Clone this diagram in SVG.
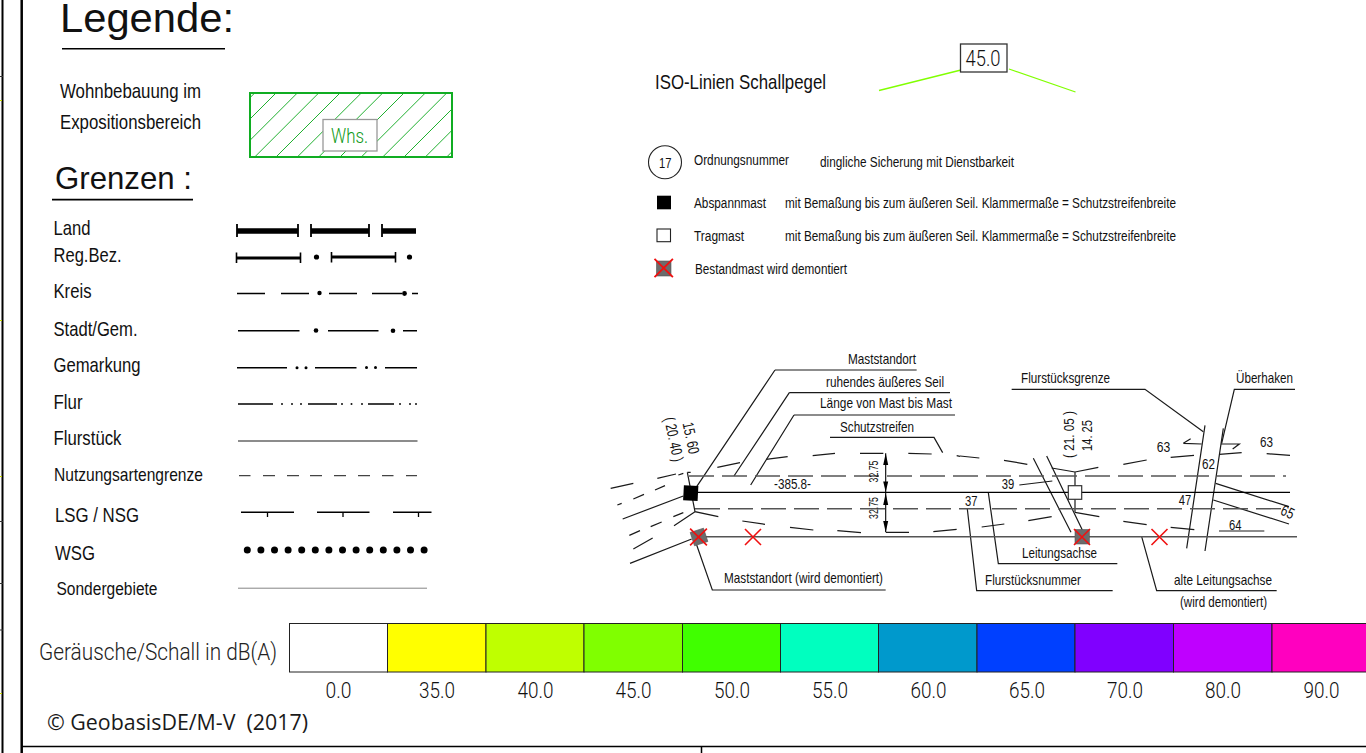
<svg xmlns="http://www.w3.org/2000/svg" width="1366" height="753" viewBox="0 0 1366 753">
<style>
text{font-family:"Liberation Sans",Arial,sans-serif;fill:#111}
.lab{font-size:21px}
.sm{font-size:14px}
.d{font-size:14.5px}
.n{font-size:15.5px}
.iso{font-family:Roboto,"Liberation Sans",sans-serif;font-weight:300;font-size:22px;fill:#111}
.ln{fill:none;stroke:#000;stroke-linecap:butt}
.dash{fill:none;stroke:#555;stroke-width:1.4;stroke-dasharray:25 8}
.x{fill:none;stroke:#f01010;stroke-width:1.6}
.old{fill:#6c6c6c;stroke:#555;stroke-width:.6}
.bar{stroke:#222;stroke-width:1}
</style>
<defs>
<clipPath id="hatchClip"><rect x="250" y="93" width="202" height="64"/></clipPath>
<path id="redX" class="x" d="M-8-8L8 8M8-8L-8 8"/>
</defs>
<rect width="1366" height="753" fill="#fff"/>

<g id="frame">
<path class="ln" stroke-width="2" d="M2.500 0V753"/>
<path class="ln" stroke-width="2.500" d="M21.700 0V753"/>
<path class="ln" stroke-width="1.500" d="M22 746.500H1366M701.500 746.500V753"/>
<path fill="none" stroke="#333" stroke-width="1" d="M0 76.500H3M0 521.500H3M0 583.500H3M0 630H3"/>
<path fill="none" stroke="#c8d800" stroke-width="1" d="M0 100.500H2M0 320.500H2M0 476.500H2M0 693.500H2"/>
</g>

<g id="title">
<text x="60" y="32" font-size="41" textLength="174" lengthAdjust="spacingAndGlyphs">Legende:</text>
<path class="ln" stroke-width="1.600" d="M62 48.700H225"/>
</g>

<g id="wohnbebauung">
<text class="lab" x="60" y="98" textLength="141" lengthAdjust="spacingAndGlyphs">Wohnbebauung im</text>
<text class="lab" x="60" y="128.500" textLength="141" lengthAdjust="spacingAndGlyphs">Expositionsbereich</text>
<g clip-path="url(#hatchClip)"><path fill="none" stroke="#20b030" stroke-width="1" d="M254.700 93l-64 64M276 93l-64 64M297.300 93l-64 64M318.700 93l-64 64M340 93l-64 64M361.300 93l-64 64M382.700 93l-64 64M404 93l-64 64M425.300 93l-64 64M446.700 93l-64 64M468 93l-64 64M489.300 93l-64 64M510.700 93l-64 64"/></g>
<rect x="250" y="93" width="202" height="64" fill="none" stroke="#10ad22" stroke-width="2"/>
<rect x="323" y="119.500" width="54" height="31.500" fill="#fff" stroke="#999" stroke-width="1.300"/>
<text x="331" y="143" font-size="20" textLength="37" lengthAdjust="spacingAndGlyphs" style="fill:#109a20;font-family:Roboto,'Liberation Sans',sans-serif;font-weight:300">Whs.</text>
</g>

<g id="grenzen-title">
<text x="55" y="189" font-size="31.200" textLength="137" lengthAdjust="spacingAndGlyphs">Grenzen :</text>
<path class="ln" stroke-width="1.600" d="M52 199.600H193"/>
</g>

<g id="land">
<text class="lab" x="53.500" y="234.500" textLength="37" lengthAdjust="spacingAndGlyphs">Land</text>
<path class="ln" stroke-width="5.500" d="M237 231H298M311 231H369M382 231H416"/>
<path class="ln" stroke-width="1.800" d="M237 224V237M298 224V237M311 224V237M369 224V237M382 224V237"/>
</g>
<g id="regbez">
<text class="lab" x="53.500" y="262" textLength="68" lengthAdjust="spacingAndGlyphs">Reg.Bez.</text>
<path class="ln" stroke-width="3.200" d="M236 258H300M331 257H395"/>
<path class="ln" stroke-width="1.600" d="M236.500 252.500V263M300.500 252.500V263M331.500 252V262.500M395.500 252V262.500"/>
<circle cx="316.500" cy="257" r="2.600"/><circle cx="409.500" cy="257" r="2.600"/>
</g>
<g id="kreis">
<text class="lab" x="53.500" y="298" textLength="38" lengthAdjust="spacingAndGlyphs">Kreis</text>
<path class="ln" stroke-width="1.500" d="M237 293.500H265M281 293.500H309M329 293.500H357M372 293.500H402M412 293.500H418"/>
<circle cx="319.500" cy="293" r="2.200"/><circle cx="404.500" cy="293.500" r="2.400"/>
</g>
<g id="stadt">
<text class="lab" x="53.500" y="335.500" textLength="84" lengthAdjust="spacingAndGlyphs">Stadt/Gem.</text>
<path class="ln" stroke-width="1.500" d="M238 330.700H299.500M328 330.700H378.500M403 330.700H417"/>
<circle cx="316" cy="330.500" r="2.300"/><circle cx="393" cy="330.700" r="2.300"/>
</g>
<g id="gemarkung">
<text class="lab" x="53.500" y="372" textLength="87" lengthAdjust="spacingAndGlyphs">Gemarkung</text>
<path class="ln" stroke-width="1.500" d="M237 367.700H287M315 367.700H356.500M385 367.700H417"/>
<circle cx="297" cy="367.700" r="1.500"/><circle cx="306" cy="367.700" r="1.500"/><circle cx="366.500" cy="367.500" r="1.500"/><circle cx="375.500" cy="367.500" r="1.500"/>
</g>
<g id="flur">
<text class="lab" x="53.500" y="408.500" textLength="29" lengthAdjust="spacingAndGlyphs">Flur</text>
<path class="ln" stroke-width="1.500" d="M238 404H273M308 404H337M368 404H394"/>
<g fill="#111"><circle cx="282" cy="404" r="1"/><circle cx="292" cy="404" r="1"/><circle cx="301" cy="404" r="1"/><circle cx="342" cy="404" r="1"/><circle cx="351.500" cy="404" r="1"/><circle cx="362" cy="404" r="1"/><circle cx="400" cy="404" r="1"/><circle cx="410" cy="404" r="1"/><circle cx="416" cy="404" r="1"/></g>
</g>
<g id="flurstueck">
<text class="lab" x="53.500" y="445" textLength="68" lengthAdjust="spacingAndGlyphs">Flurstück</text>
<path fill="none" stroke="#666" stroke-width="1.500" d="M238 441H417.500"/>
</g>
<g id="nutzung">
<text x="54" y="481" font-size="19" textLength="149" lengthAdjust="spacingAndGlyphs">Nutzungsartengrenze</text>
<path fill="none" stroke="#444" stroke-width="1.300" d="M239 475.700H250.500M263 475.700H275M287 475.700H299M310 475.700H322M334 475.700H346M358 475.700H370M382 475.700H393.500M406 475.700H417"/>
</g>
<g id="lsg">
<text class="lab" x="55" y="522" textLength="84" lengthAdjust="spacingAndGlyphs">LSG / NSG</text>
<path class="ln" stroke-width="1.500" d="M241 512.300H294M317 512.300H369.500M393 512.300H431.500"/>
<path class="ln" stroke-width="1.300" d="M267.500 512V517M343 512V517M418.500 512V517"/>
</g>
<g id="wsg">
<text class="lab" x="55" y="560" textLength="40" lengthAdjust="spacingAndGlyphs">WSG</text>
<g><circle cx="247.300" cy="550" r="3.500"/><circle cx="260.900" cy="550" r="3.500"/><circle cx="274.500" cy="550" r="3.500"/><circle cx="288.100" cy="550" r="3.500"/><circle cx="301.700" cy="550" r="3.500"/><circle cx="315.300" cy="550" r="3.500"/><circle cx="328.900" cy="550" r="3.500"/><circle cx="342.500" cy="550" r="3.500"/><circle cx="356.100" cy="550" r="3.500"/><circle cx="369.700" cy="550" r="3.500"/><circle cx="383.300" cy="550" r="3.500"/><circle cx="396.900" cy="550" r="3.500"/><circle cx="410.500" cy="550" r="3.500"/><circle cx="424.100" cy="550" r="3.500"/></g>
</g>
<g id="sonder">
<text x="56.500" y="595" font-size="18" textLength="101" lengthAdjust="spacingAndGlyphs">Sondergebiete</text>
<path fill="none" stroke="#777" stroke-width=".9" d="M238 588.200H427"/>
</g>

<g id="iso">
<text x="655" y="89" font-size="21" textLength="171" lengthAdjust="spacingAndGlyphs">ISO-Linien Schallpegel</text>
<path fill="none" stroke="#80ff00" stroke-width="1.300" d="M879 90.500L961 70M1009 69L1075.500 92"/>
<rect x="960.500" y="44" width="46.500" height="28" fill="#fff" stroke="#333" stroke-width="1.300"/>
<text class="iso" x="965.500" y="65.500" textLength="35" lengthAdjust="spacingAndGlyphs">45.0</text>
</g>

<g id="ordnungsnummer">
<circle cx="665" cy="162.300" r="16.500" fill="#fff" stroke="#222" stroke-width="1.100"/>
<text x="659" y="168" font-size="15" textLength="12.500" lengthAdjust="spacingAndGlyphs">17</text>
<text class="sm" x="694" y="165" textLength="95" lengthAdjust="spacingAndGlyphs">Ordnungsnummer</text>
<text class="sm" x="820" y="167" textLength="194" lengthAdjust="spacingAndGlyphs">dingliche Sicherung mit Dienstbarkeit</text>
</g>
<g id="abspannmast">
<rect x="657" y="195.700" width="14" height="13.600"/>
<text class="sm" x="694" y="208" textLength="72" lengthAdjust="spacingAndGlyphs">Abspannmast</text>
<text class="sm" x="785" y="208" textLength="391" lengthAdjust="spacingAndGlyphs">mit Bemaßung bis zum äußeren Seil. Klammermaße = Schutzstreifenbreite</text>
</g>
<g id="tragmast">
<rect x="657" y="229" width="13.500" height="12.700" fill="#fff" stroke="#222" stroke-width="1.100"/>
<text class="sm" x="694" y="240.500" textLength="50" lengthAdjust="spacingAndGlyphs">Tragmast</text>
<text class="sm" x="785" y="241" textLength="391" lengthAdjust="spacingAndGlyphs">mit Bemaßung bis zum äußeren Seil. Klammermaße = Schutzstreifenbreite</text>
</g>
<g id="bestandmast">
<rect class="old" x="656.500" y="261" width="14.500" height="15"/>
<use href="#redX" transform="translate(663.700 268) scale(1.150)"/>
<text class="sm" x="695" y="274" textLength="152" lengthAdjust="spacingAndGlyphs">Bestandmast wird demontiert</text>
</g>

<g id="connectors">
<g transform="translate(600 340) scale(.33333)" fill="none" stroke="#1a1a1a" stroke-width="3.600">
<path d="M525 90H950M525 90L290 440"/>
<path d="M568 158H1050M568 158L402 408"/>
<path d="M582 225H1065M582 225L452 435"/>
<path d="M690 292H1002L1028 338"/>
<path d="M290 615L337 750H857"/>
<path d="M262 397H272M262 397L285 515L355 530M285 515L222 557"/>
<path d="M32 445L100 430M52 495L65 490M100 477L132 463M165 450L195 437M172 415L228 402M235 405L250 400M352 382L420 368M498 358L563 350M638 347L705 340M780 340L850 340M925 340L995 342M1070 347L1080 349"/>
<path d="M68 537L250 468M220 530L250 518M152 560L185 546M88 586L120 572M100 627L158 594M90 670L275 597M427 543L495 553M570 562L640 570M712 572L783 578M858 577L927 577M1000 575L1070 568"/>
</g>
<g transform="translate(960 350) scale(.33333)" fill="none" stroke="#1a1a1a" stroke-width="3.600">
<path d="M155 118H555L730 245"/>
<path d="M1005 118H823L785 280"/>
<path d="M735 226L680 595M790 235L735 603"/>
<path d="M670 280L725 282M670 280L692 266M783 282H838L818 297"/>
<path d="M632 322L702 316M778 313L845 308M920 311L990 316M490 343L560 330M345 366L415 352M275 354L345 366M345 366V487M345 487L418 500M205 512L275 500M65 531L133 522M490 514L560 524M632 532L703 539M777 543H913M132 331L202 343M0 318L58 324M178 405L277 393"/>
<path d="M220 325L333 547M260 318L367 540"/>
<path d="M85 428L115 641H472"/>
<path d="M22 477L50 722H458"/>
<path d="M545 560L590 722H950"/>
<path d="M767 400L987 470M760 450L987 522"/>
</g>
<path class="ln" stroke-width="1.300" d="M696 492.300H1290"/>
<path class="dash" d="M689 476H1286"/>
<path class="dash" d="M695 508.700H1282"/>
<path fill="none" stroke="#555" stroke-width="1.500" d="M697 536.700H1297"/>
<path fill="#000" d="M885.700 453.300L888.200 465H883.200ZM885.700 492L883.200 481.500H888.200ZM885.700 493L888.200 505H883.200ZM885.700 532.300L883.200 521H888.200Z"/>
<path class="ln" stroke-width="1.100" d="M885.700 453.300V532.300"/>
</g>

<g id="mast-abspann"><rect x="683.500" y="485.700" width="14.500" height="15" transform="rotate(3 690.700 493)"/></g>
<g id="mast-alt-1"><rect class="old" x="692" y="530" width="14" height="14" transform="rotate(-18 699 537)"/><use href="#redX" transform="translate(698.500 537) scale(1.050)"/></g>
<g id="kreuz-1"><use href="#redX" transform="translate(753 537)"/></g>
<g id="mast-trag"><rect x="1068.300" y="485.700" width="13.400" height="13.600" fill="#fff" stroke="#333" stroke-width="1.200"/></g>
<g id="mast-alt-2"><rect class="old" x="1075" y="529.500" width="14.300" height="14.500"/><use href="#redX" transform="translate(1082 537)"/></g>
<g id="kreuz-2"><use href="#redX" transform="translate(1159.500 537)"/></g>

<g id="beschriftung">
<text class="d" x="848" y="364" textLength="68" lengthAdjust="spacingAndGlyphs">Maststandort</text>
<text class="d" x="826" y="386.700" textLength="118" lengthAdjust="spacingAndGlyphs">ruhendes äußeres Seil</text>
<text class="d" x="820" y="408" textLength="132" lengthAdjust="spacingAndGlyphs">Länge von Mast bis Mast</text>
<text class="d" x="840" y="431.700" textLength="74" lengthAdjust="spacingAndGlyphs">Schutzstreifen</text>
<text x="774" y="489.300" font-size="15" textLength="37" lengthAdjust="spacingAndGlyphs">-385.8-</text>
<text class="d" x="724" y="583" textLength="159" lengthAdjust="spacingAndGlyphs">Maststandort (wird demontiert)</text>
<text class="d" x="1021" y="383.300" textLength="89" lengthAdjust="spacingAndGlyphs">Flurstücksgrenze</text>
<text class="d" x="1236" y="383.300" textLength="57" lengthAdjust="spacingAndGlyphs">Überhaken</text>
<text class="d" x="1022" y="558.300" textLength="75" lengthAdjust="spacingAndGlyphs">Leitungsachse</text>
<text class="d" x="985" y="585" textLength="96" lengthAdjust="spacingAndGlyphs">Flurstücksnummer</text>
<text class="d" x="1174" y="585" textLength="98" lengthAdjust="spacingAndGlyphs">alte Leitungsachse</text>
<text class="d" x="1180" y="606.700" textLength="87" lengthAdjust="spacingAndGlyphs">(wird demontiert)</text>
<text font-size="12" transform="translate(877.500 482.500) rotate(-90)" textLength="22" lengthAdjust="spacingAndGlyphs">32.75</text>
<text font-size="12" transform="translate(877.500 519) rotate(-90)" textLength="22" lengthAdjust="spacingAndGlyphs">32.75</text>
<text class="n" transform="translate(682.500 423.500) rotate(78)" textLength="32" lengthAdjust="spacingAndGlyphs">15. 60</text>
<text class="n" transform="translate(664 418.500) rotate(78)" textLength="45" lengthAdjust="spacingAndGlyphs">( 20. 40 )</text>
<text class="n" transform="translate(1074.300 458) rotate(-90)" textLength="47" lengthAdjust="spacingAndGlyphs">( 21. 05 )</text>
<text class="n" transform="translate(1091.700 451) rotate(-90)" textLength="31" lengthAdjust="spacingAndGlyphs">14. 25</text>
<text class="n" x="1156.700" y="451.700" textLength="13.500" lengthAdjust="spacingAndGlyphs">63</text>
<text class="n" x="1260" y="446.700" textLength="13" lengthAdjust="spacingAndGlyphs">63</text>
<text class="n" x="1202" y="469.300" textLength="13" lengthAdjust="spacingAndGlyphs">62</text>
<text class="n" x="1001.700" y="488.700" textLength="12.500" lengthAdjust="spacingAndGlyphs">39</text>
<text class="n" x="965" y="506" textLength="12.500" lengthAdjust="spacingAndGlyphs">37</text>
<text class="n" x="1178.700" y="505.300" textLength="12.500" lengthAdjust="spacingAndGlyphs">47</text>
<text class="n" x="1229" y="530.300" textLength="12.500" lengthAdjust="spacingAndGlyphs">64</text>
<text class="n" transform="translate(1279.500 514) rotate(25)" textLength="13" lengthAdjust="spacingAndGlyphs">65</text>
</g>

<g id="farbskala">
<text x="39" y="660" font-size="23" textLength="238" lengthAdjust="spacingAndGlyphs" style="font-family:Roboto,'Liberation Sans',sans-serif;font-weight:300;fill:#222">Geräusche/Schall in dB(A)</text>
<rect class="bar" x="289.500" y="623.500" width="98" height="48.500" fill="#fff"/>
<rect class="bar" x="387.500" y="623.500" width="98.500" height="48.500" fill="#ffff00"/>
<rect class="bar" x="486" y="623.500" width="98" height="48.500" fill="#bfff00"/>
<rect class="bar" x="584" y="623.500" width="98.500" height="48.500" fill="#80ff00"/>
<rect class="bar" x="682.500" y="623.500" width="98" height="48.500" fill="#40ff00"/>
<rect class="bar" x="780.500" y="623.500" width="98" height="48.500" fill="#00ffbf"/>
<rect class="bar" x="878.500" y="623.500" width="98.500" height="48.500" fill="#0099cc"/>
<rect class="bar" x="977" y="623.500" width="98" height="48.500" fill="#0040ff"/>
<rect class="bar" x="1075" y="623.500" width="98.500" height="48.500" fill="#8000ff"/>
<rect class="bar" x="1173.500" y="623.500" width="98.500" height="48.500" fill="#bf00ff"/>
<rect class="bar" x="1272" y="623.500" width="98" height="48.500" fill="#ff00bf"/>
<text class="iso" x="325.500" y="698" textLength="26" lengthAdjust="spacingAndGlyphs">0.0</text>
<text class="iso" x="419" y="698" textLength="36" lengthAdjust="spacingAndGlyphs">35.0</text>
<text class="iso" x="517.500" y="698" textLength="36" lengthAdjust="spacingAndGlyphs">40.0</text>
<text class="iso" x="615.500" y="698" textLength="36" lengthAdjust="spacingAndGlyphs">45.0</text>
<text class="iso" x="714" y="698" textLength="36" lengthAdjust="spacingAndGlyphs">50.0</text>
<text class="iso" x="812" y="698" textLength="36" lengthAdjust="spacingAndGlyphs">55.0</text>
<text class="iso" x="910.500" y="698" textLength="36" lengthAdjust="spacingAndGlyphs">60.0</text>
<text class="iso" x="1009" y="698" textLength="36" lengthAdjust="spacingAndGlyphs">65.0</text>
<text class="iso" x="1107" y="698" textLength="36" lengthAdjust="spacingAndGlyphs">70.0</text>
<text class="iso" x="1205" y="698" textLength="36" lengthAdjust="spacingAndGlyphs">80.0</text>
<text class="iso" x="1303.500" y="698" textLength="36" lengthAdjust="spacingAndGlyphs">90.0</text>
</g>

<g id="copyright">
<text x="47" y="730" font-size="21" textLength="261" lengthAdjust="spacingAndGlyphs" style="font-family:'Open Sans','Noto Sans',sans-serif;white-space:pre;fill:#1a1a1a">© GeobasisDE/M-V  (2017)</text>
</g>
</svg>
